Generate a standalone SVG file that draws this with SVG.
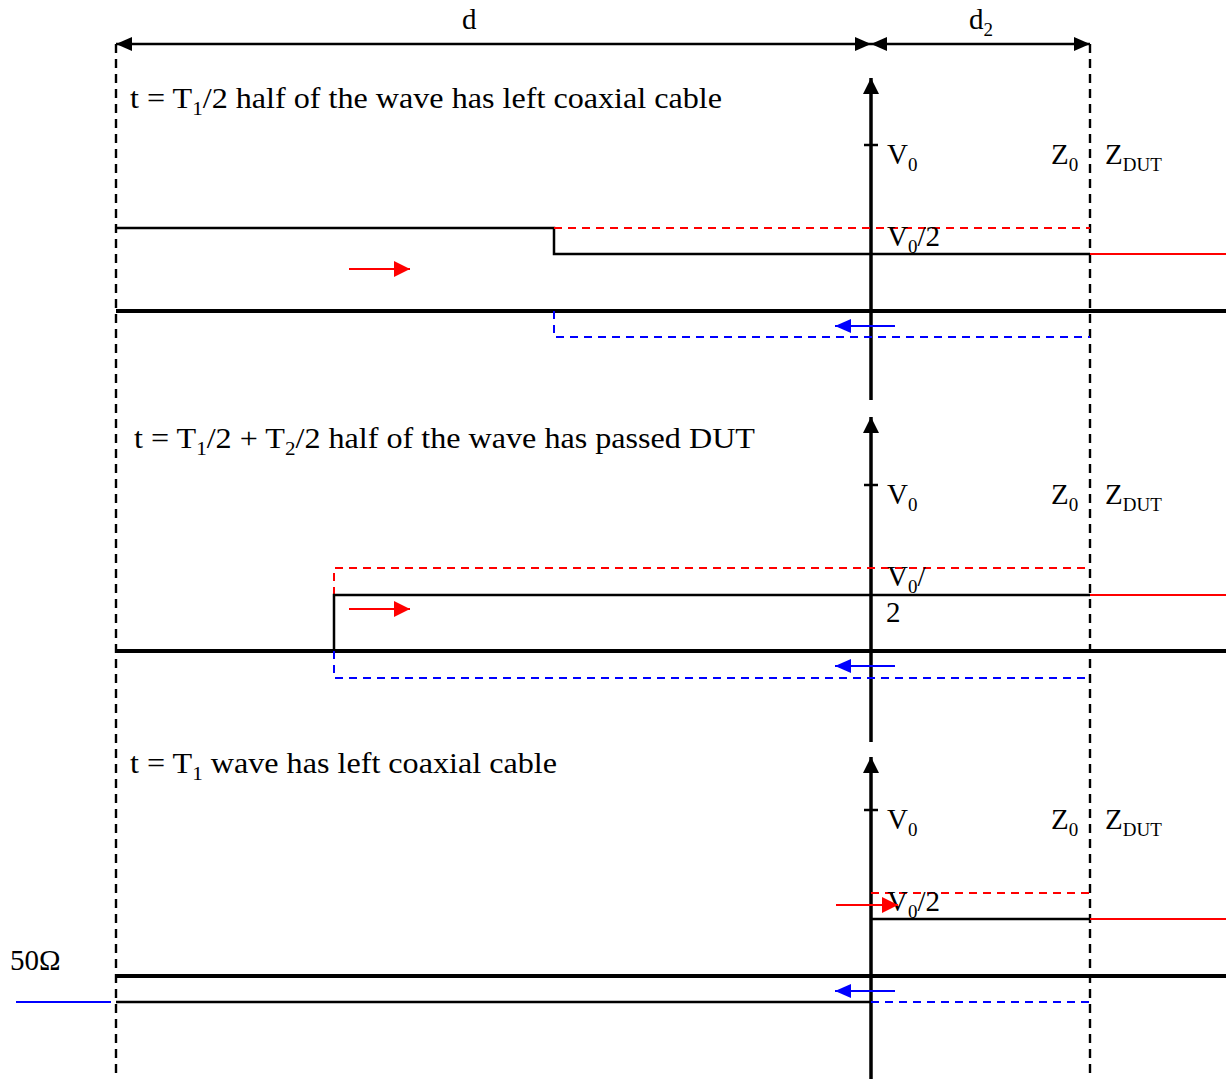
<svg xmlns="http://www.w3.org/2000/svg" width="1226" height="1079" viewBox="0 0 1226 1079">
<style>
text{font-family:"Liberation Serif","Times New Roman",serif;font-size:29px;fill:#000}
.sub{font-size:19px}
.dash{stroke:#000;stroke-width:2.4;stroke-dasharray:9,6;fill:none}
.axis{stroke:#000;stroke-width:3.5;fill:none}
.thick{stroke:#000;stroke-width:3.8;fill:none}
.thin{stroke:#000;stroke-width:2.5;fill:none}
.red{stroke:#f00;stroke-width:2;fill:none}
.reddash{stroke:#f00;stroke-width:2;stroke-dasharray:8,6;fill:none}
.blue{stroke:#00f;stroke-width:2;fill:none}
.bluedash{stroke:#00f;stroke-width:2;stroke-dasharray:8,6;fill:none}
.dim{stroke:#000;stroke-width:2.4;fill:none}
</style>
<defs>
<marker id="ad" markerUnits="userSpaceOnUse" markerWidth="16" markerHeight="14" refX="16" refY="7" orient="auto-start-reverse"><path d="M0,0 L16,7 L0,14 Z" fill="#000"/></marker>
<marker id="aa" markerUnits="userSpaceOnUse" markerWidth="16" markerHeight="16" refX="16" refY="8" orient="auto"><path d="M0,0 L16,8 L0,16 Z" fill="#000"/></marker>
<marker id="ar" markerUnits="userSpaceOnUse" markerWidth="16" markerHeight="16" refX="16" refY="8" orient="auto"><path d="M0,0 L16,8 L0,16 Z" fill="#f00"/></marker>
<marker id="ab" markerUnits="userSpaceOnUse" markerWidth="16" markerHeight="14" refX="16" refY="7" orient="auto"><path d="M0,0 L16,7 L0,14 Z" fill="#00f"/></marker>
</defs>

<g id="dimensions">
<line class="dim" x1="116" y1="44" x2="871" y2="44" marker-start="url(#ad)" marker-end="url(#ad)"/>
<line class="dim" x1="871" y1="44" x2="1090" y2="44" marker-start="url(#ad)" marker-end="url(#ad)"/>
<text x="462" y="29">d</text>
<text x="969" y="29">d<tspan class="sub" dy="7">2</tspan></text>
<line class="dash" x1="116" y1="44" x2="116" y2="1079"/>
<line class="dash" x1="1090" y1="44" x2="1090" y2="1079"/>
</g>

<g id="panel1">
<text x="130" y="108" textLength="592" lengthAdjust="spacingAndGlyphs">t = T<tspan class="sub" dy="7">1</tspan><tspan dy="-7">/2 half of the wave has left coaxial cable</tspan></text>
<line class="axis" x1="871" y1="400" x2="871" y2="78" marker-end="url(#aa)"/>
<line class="thin" x1="864" y1="145" x2="878" y2="145"/>
<text x="887" y="164">V<tspan class="sub" dy="7">0</tspan></text>
<text x="1051" y="164">Z<tspan class="sub" dy="7">0</tspan></text>
<text x="1105" y="164">Z<tspan class="sub" dy="7">DUT</tspan></text>
<polyline class="thin" points="116,228 554,228 554,254 1090,254"/>
<line class="red" x1="1090" y1="254" x2="1226" y2="254"/>
<line class="reddash" x1="554" y1="228" x2="1090" y2="228"/>
<text x="887" y="246">V<tspan class="sub" dy="7">0</tspan><tspan dy="-7">/2</tspan></text>
<line class="red" x1="349" y1="269" x2="410" y2="269" marker-end="url(#ar)"/>
<line class="thick" x1="116" y1="311" x2="1226" y2="311"/>
<polyline class="bluedash" points="554,311 554,337 1090,337"/>
<line class="blue" x1="895" y1="326" x2="835" y2="326" marker-end="url(#ab)"/>
</g>

<g id="panel2">
<text x="134" y="448" textLength="621" lengthAdjust="spacingAndGlyphs">t = T<tspan class="sub" dy="7">1</tspan><tspan dy="-7">/2 + T</tspan><tspan class="sub" dy="7">2</tspan><tspan dy="-7">/2 half of the wave has passed DUT</tspan></text>
<line class="axis" x1="871" y1="742" x2="871" y2="417" marker-end="url(#aa)"/>
<line class="thin" x1="864" y1="485" x2="878" y2="485"/>
<text x="887" y="504">V<tspan class="sub" dy="7">0</tspan></text>
<text x="1051" y="504">Z<tspan class="sub" dy="7">0</tspan></text>
<text x="1105" y="504">Z<tspan class="sub" dy="7">DUT</tspan></text>
<polyline class="reddash" points="334,595 334,568 1090,568"/>
<polyline class="thin" points="334,651 334,595 1090,595"/>
<line class="red" x1="1090" y1="595" x2="1226" y2="595"/>
<text x="887" y="586">V<tspan class="sub" dy="7">0</tspan><tspan dy="-7">/</tspan></text>
<text x="886" y="622">2</text>
<line class="red" x1="349" y1="609" x2="410" y2="609" marker-end="url(#ar)"/>
<line class="thick" x1="116" y1="651" x2="1226" y2="651"/>
<polyline class="bluedash" points="334,651 334,678 1090,678"/>
<line class="blue" x1="895" y1="666" x2="835" y2="666" marker-end="url(#ab)"/>
</g>

<g id="panel3">
<text x="130" y="773" textLength="427" lengthAdjust="spacingAndGlyphs">t = T<tspan class="sub" dy="7">1</tspan><tspan dy="-7"> wave has left coaxial cable</tspan></text>
<line class="axis" x1="871" y1="1079" x2="871" y2="757" marker-end="url(#aa)"/>
<line class="thin" x1="864" y1="810" x2="878" y2="810"/>
<text x="887" y="829">V<tspan class="sub" dy="7">0</tspan></text>
<text x="1051" y="829">Z<tspan class="sub" dy="7">0</tspan></text>
<text x="1105" y="829">Z<tspan class="sub" dy="7">DUT</tspan></text>
<line class="reddash" x1="871" y1="893" x2="1090" y2="893"/>
<text x="887" y="911">V<tspan class="sub" dy="7">0</tspan><tspan dy="-7">/2</tspan></text>
<line class="red" x1="836" y1="905" x2="898" y2="905" marker-end="url(#ar)"/>
<line class="thin" x1="871" y1="919" x2="1090" y2="919"/>
<line class="red" x1="1090" y1="919" x2="1226" y2="919"/>
<line class="thick" x1="116" y1="976" x2="1226" y2="976"/>
<line class="thin" x1="116" y1="1002" x2="871" y2="1002"/>
<line class="bluedash" x1="871" y1="1002" x2="1090" y2="1002"/>
<line class="blue" x1="16" y1="1002" x2="111" y2="1002"/>
<line class="blue" x1="895" y1="991" x2="835" y2="991" marker-end="url(#ab)"/>
<text x="10" y="970">50Ω</text>
</g>
</svg>
